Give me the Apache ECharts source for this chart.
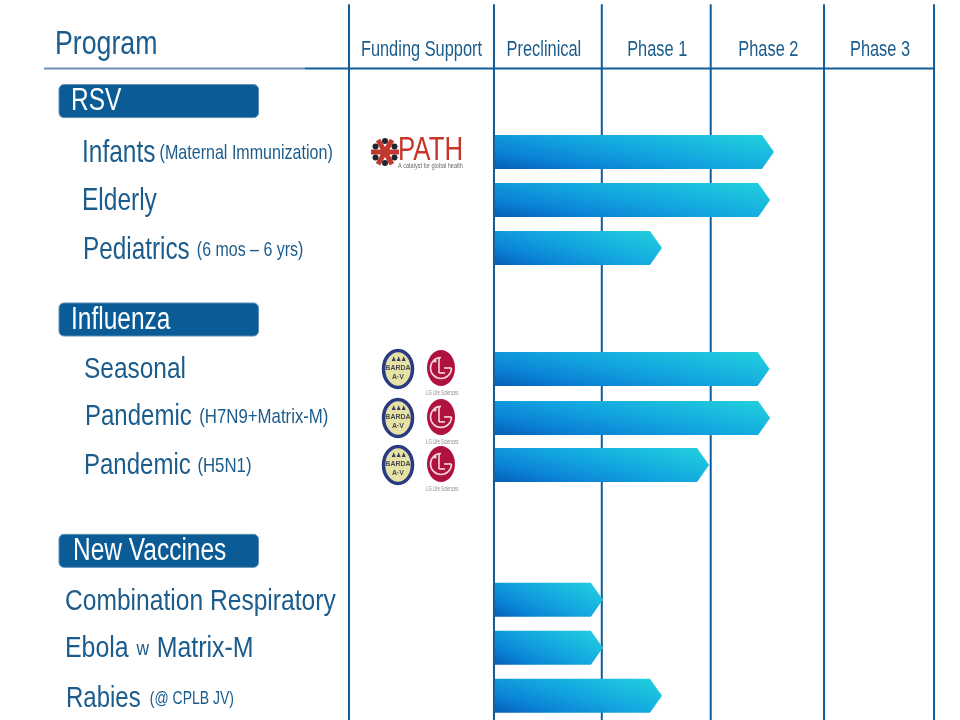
<!DOCTYPE html>
<html><head><meta charset="utf-8">
<style>html,body{margin:0;padding:0;background:#fff}#c{width:960px;height:720px}</style>
<script src="https://cdn.jsdelivr.net/npm/echarts@6/dist/echarts.min.js"></script>
</head><body><div id="c"></div>
<script>
// phases: x axis unit = one development phase, 0 = start of Preclinical
const phaseNames = ['Funding Support','Preclinical','Phase 1','Phase 2','Phase 3'];
const phaseEdges = [-1.318,0,0.98,1.97,3,4];
// groups and programs; y axis unit = one row
const groupNames = ['RSV','Influenza','New Vaccines'];
const groupRows = [-0.05,4.5,9.32];
const programNames = ['Infants','Elderly','Pediatrics','Seasonal','Pandemic','Pandemic','Combination Respiratory','Ebola','Rabies'];
const programNotes = ['(Maternal Immunization)','','(6 mos – 6 yrs)','','(H7N9+Matrix-M)','(H5N1)','','w','(@ CPLB JV)'];
const programTails = ['','','','','','','','Matrix-M',''];
const programRows = [1,2,3,5.52,6.54,7.52,10.33,11.33,12.33];
const progress = [2.545,2.51,1.527,2.505,2.51,1.955,0.99,0.99,1.527];
const funders = ['PATH','','','BARDA+LG','BARDA+LG','BARDA+LG','','',''];

const FONT='"Liberation Sans",Arial,sans-serif';
const BLUE='#1b5c8c', LINE='#0f5c99', PILL='#0b5c96';
const indents=[82,82,83,84,85,84,65,65,66];
const sizes=[32,32,32,30,30,30,30,30,30];
const squeeze=[.765,.765,.76,.815,.8,.8,.82,.83,.8];
const noteSizes=[21,21,21,21,21,21,21,21,17.5];
const noteGaps=[2,0,6,0,6,5,0,6,8];
const textShift=[1,1,2,1,-1,1,2,1,3];
const groupIndents=[71,71,73];

function txt(x,y,sx,style){
  return {type:'text',x:x,y:y,scaleX:sx,originX:0,originY:0,style:Object.assign({x:0,y:0,verticalAlign:'middle'},style)};
}
function renderBar(p,api){
  const v=api.value(0), r=api.value(1);
  const s=api.coord([0,r]), e=api.coord([v,r]);
  const h=17, head=12;
  const x0=s[0]+1,x1=e[0],y=s[1], w=x1-x0, H=2*h;
  const a=1/(.36/(w*w)+.16/(H*H));
  const dx=a*.6/w, dy=a*.4/H;
  return {type:'polygon',shape:{points:[[x0,y-h],[x1-head,y-h],[x1,y],[x1-head,y+h],[x0,y+h]]},
    style:{fill:new echarts.graphic.LinearGradient(0,1,dx/w,1-dy/H,[
      {offset:0,color:'#045fb4'},{offset:.2,color:'#0a80d4'},{offset:.5,color:'#12a4e0'},{offset:1,color:'#22d2dc'}])}};
}
function renderEdge(p,api){
  const a=api.coord([api.value(0),-2.08]), b=api.coord([api.value(0),12.84]);
  return {type:'line',shape:{x1:a[0],y1:a[1],x2:b[0],y2:b[1]},style:{stroke:LINE,lineWidth:2}};
}
function renderHeader(p,api){
  const i=p.dataIndex;
  const a=api.coord([phaseEdges[i],0]), b=api.coord([phaseEdges[i+1],0]);
  const c=(a[0]+b[0])/2+(i===1?-4:(i>1?1:0));
  return txt(c,50,.745,{text:phaseNames[i],align:'center',font:'22px '+FONT,fill:BLUE});
}
function renderGroup(p,api){
  const i=p.dataIndex,c=api.coord([0,api.value(0)]);
  return {type:'group',children:[
    {type:'rect',shape:{x:59,y:c[1]-17,width:199.5,height:33,r:5},style:{fill:PILL,stroke:'#5c8db5',lineWidth:1}},
    txt(groupIndents[i],c[1],.79,{text:groupNames[i],font:'31px '+FONT,fill:'#fff'})
  ]};
}
function renderProgram(p,api){
  const i=p.dataIndex, c=api.coord([0,api.value(0)]);
  return txt(indents[i],c[1]+textShift[i],squeeze[i],{
    text:'{a|'+programNames[i]+'}'+(programNotes[i]?' {b|'+programNotes[i]+'}':'')+(programTails[i]?' {c|'+programTails[i]+'}':''),
    rich:{a:{font:sizes[i]+'px '+FONT,fill:BLUE,verticalAlign:'middle'},
      b:{font:noteSizes[i]+'px '+FONT,fill:BLUE,verticalAlign:'middle',padding:[0,0,0,noteGaps[i]]},
      c:{font:sizes[i]+'px '+FONT,fill:BLUE,verticalAlign:'middle',padding:[0,0,0,6]}}});
}
function pathLogo(cy){
  const cx=385,kids=[];
  kids.push({type:'circle',shape:{cx:cx,cy:cy,r:5},style:{fill:'#c0392b'}});
  for(let k=0;k<6;k++){
    const t=Math.PI/3*k+Math.PI/2;
    kids.push({type:'line',shape:{x1:cx,y1:cy,x2:cx+14*Math.cos(t+Math.PI/6),y2:cy+14*Math.sin(t+Math.PI/6)},style:{stroke:'#c0392b',lineWidth:5}});
    kids.push({type:'circle',shape:{cx:cx+11*Math.cos(t),cy:cy+11*Math.sin(t),r:3},style:{fill:'#1f2430'}});
  }
  kids.push(txt(398,cy-1,.76,{text:'PATH',font:'34px '+FONT,fill:'#c8352b'}));
  kids.push(txt(398,cy+14,.79,{text:'A catalyst for global health',font:'7px '+FONT,fill:'#6a6a6a'}));
  return kids;
}
function bardaLg(cy){
  const bx=398,lx=441,ly=cy-1;
  return [
    {type:'ellipse',shape:{cx:bx,cy:cy,rx:14.5,ry:18.5},style:{fill:'#e6e2a6',stroke:'#2a3a80',lineWidth:3.5}},
    {type:'text',style:{x:bx,y:cy-1,text:'BARDA',font:'bold 7px '+FONT,fill:'#4a4a50',align:'center',verticalAlign:'middle'}},
    {type:'text',style:{x:bx,y:cy+8,text:'A·V',font:'bold 7px '+FONT,fill:'#4a4a50',align:'center',verticalAlign:'middle'}},
    {type:'text',style:{x:bx,y:cy-10,text:'♟♟♟',font:'6px '+FONT,fill:'#3a3a60',align:'center',verticalAlign:'middle'}},
    {type:'ellipse',shape:{cx:lx,cy:ly,rx:14,ry:18},style:{fill:'#b0123f'}},
    {type:'circle',shape:{cx:lx-6,cy:ly-7,r:1.6},style:{fill:'#f3d7df'}},
    {type:'line',shape:{x1:lx-2,y1:ly-11,x2:lx-2,y2:ly+5},style:{stroke:'#f3d7df',lineWidth:1.6}},
    {type:'line',shape:{x1:lx-2,y1:ly+5,x2:lx+4,y2:ly+5},style:{stroke:'#f3d7df',lineWidth:1.6}},
    {type:'arc',shape:{cx:lx,cy:ly,r:10.5,startAngle:-Math.PI/2,endAngle:0,clockwise:false},style:{stroke:'#f3d7df',fill:null,lineWidth:1.6}},
    {type:'line',shape:{x1:lx+3,y1:ly,x2:lx+10.5,y2:ly},style:{stroke:'#f3d7df',lineWidth:1.6}},
    txt(426,ly+25,.66,{text:'LG Life Sciences',font:'6.5px '+FONT,fill:'#8a8a8a'})
  ];
}
function renderFunder(p,api){
  const f=funders[p.dataIndex], c=api.coord([0,api.value(0)]);
  if(!f) return {type:'group',children:[]};
  return {type:'group',children:f==='PATH'?pathLogo(c[1]):bardaLg(c[1])};
}
function renderRule(p,api){
  return {type:'group',children:[
    {type:'line',shape:{x1:44,y1:68.5,x2:305,y2:68.5},style:{stroke:'#6f8db5',lineWidth:2}},
    {type:'line',shape:{x1:305,y1:68.5,x2:api.coord([phaseEdges[5],0])[0],y2:68.5},style:{stroke:LINE,lineWidth:2}},
    txt(55,45,.81,{text:'Program',font:'33px '+FONT,fill:BLUE})
  ]};
}
const base={type:'custom',clip:false,silent:true,animation:false};
const chart=echarts.init(document.getElementById('c'));
chart.setOption({
  animation:false,backgroundColor:'#fff',
  grid:{left:0,right:0,top:0,bottom:0},
  xAxis:{type:'value',min:-4.49,max:4.236,show:false},
  yAxis:{type:'value',min:-2.1667,max:12.8333,inverse:true,show:false},
  series:[
    {...base,z:1,renderItem:renderEdge,encode:{x:0},data:phaseEdges.map(v=>[v])},
    {...base,z:2,renderItem:renderRule,data:[[0]]},
    {...base,z:3,renderItem:renderHeader,data:phaseNames.map((n,i)=>[i])},
    {...base,z:4,renderItem:renderBar,encode:{x:0,y:1},data:progress.map((v,i)=>[v,programRows[i]])},
    {...base,z:5,renderItem:renderGroup,encode:{y:0},data:groupRows.map(v=>[v])},
    {...base,z:5,renderItem:renderProgram,encode:{y:0},data:programRows.map(v=>[v])},
    {...base,z:5,renderItem:renderFunder,encode:{y:0},data:programRows.map(v=>[v])}
  ]
});
</script></body></html>
